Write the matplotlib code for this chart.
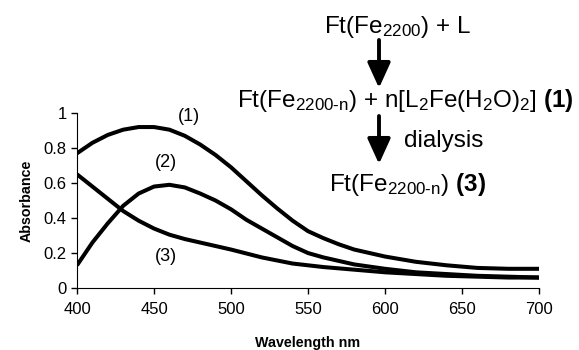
import matplotlib
matplotlib.use('Agg')
import matplotlib.pyplot as plt

plt.rcParams['font.family'] = 'Liberation Sans'
plt.rcParams['mathtext.fontset'] = 'custom'
plt.rcParams['mathtext.rm'] = 'Liberation Sans'
plt.rcParams['mathtext.it'] = 'Liberation Sans:italic'
plt.rcParams['mathtext.bf'] = 'Liberation Sans:bold'

# spectra
wl1 = [400, 410, 420, 430, 440, 450, 460, 470, 480, 490, 500, 510, 520, 530,
       540, 550, 560, 570, 580, 600, 620, 640, 660, 680, 700]
abs1 = [0.77, 0.83, 0.875, 0.905, 0.92, 0.92, 0.905, 0.87, 0.82, 0.76, 0.69,
        0.61, 0.53, 0.455, 0.385, 0.325, 0.285, 0.25, 0.22, 0.18, 0.15, 0.13,
        0.115, 0.11, 0.11]
wl2 = wl1
abs2 = [0.13, 0.26, 0.37, 0.47, 0.54, 0.58, 0.59, 0.575, 0.54, 0.50, 0.45,
        0.39, 0.34, 0.29, 0.24, 0.20, 0.175, 0.155, 0.135, 0.11, 0.09, 0.08,
        0.07, 0.065, 0.06]
wl3 = [400, 410, 420, 430, 440, 450, 460, 470, 480, 490, 500, 520, 540, 560,
       580, 600, 620, 640, 660, 680, 700]
abs3 = [0.65, 0.58, 0.51, 0.44, 0.385, 0.34, 0.305, 0.28, 0.26, 0.24, 0.22,
        0.175, 0.14, 0.12, 0.105, 0.09, 0.08, 0.07, 0.065, 0.06, 0.06]

xticks = [400, 450, 500, 550, 600, 650, 700]
yticks = [0, 0.2, 0.4, 0.6, 0.8, 1]
yticklabels = ['0', '0.2', '0.4', '0.6', '0.8', '1']

fig = plt.figure(figsize=(5.79, 3.5), dpi=100)
ax = fig.add_axes([0.133, 0.177, 0.798, 0.5])

for x, y in [(wl1, abs1), (wl2, abs2), (wl3, abs3)]:
    ax.plot(x, y, color='black', lw=2.9, solid_capstyle='butt')

ax.set_xlim(400, 700)
ax.set_ylim(0, 1)
ax.set_xticks(xticks)
ax.set_yticks(yticks)
ax.set_yticklabels(yticklabels)
ax.tick_params(labelsize=12, length=4, width=1, direction='out')
ax.tick_params(axis='x', pad=6)
ax.spines['top'].set_visible(False)
ax.spines['right'].set_visible(False)
ax.set_xlabel('Wavelength nm', fontsize=10.3, fontweight='bold', labelpad=14)
ax.set_ylabel('Absorbance', fontsize=10.3, fontweight='bold', labelpad=7)

ax.text(473, 0.98, '(1)', fontsize=13, ha='center', va='center')
ax.text(458, 0.72, '(2)', fontsize=13, ha='center', va='center')
ax.text(458, 0.18, '(3)', fontsize=13, ha='center', va='center')

# reaction scheme
fs = 17.5
fig.text(397 / 579, 1 - 27 / 350, r'Ft(Fe$_{2200}$) + L', fontsize=fs,
         ha='center', va='center')
fig.text(405 / 579, 1 - 100 / 350,
         r'Ft(Fe$_{\text{2200-n}}$) + n[L$_2$Fe(H$_2$O)$_2$] $\mathbf{(1)}$',
         fontsize=fs, ha='center', va='center')
fig.text(404 / 579, 1 - 141 / 350, 'dialysis', fontsize=fs,
         ha='left', va='center')
fig.text(407 / 579, 1 - 185 / 350, r'Ft(Fe$_{\text{2200-n}}$) $\mathbf{(3)}$',
         fontsize=fs, ha='center', va='center')

head = '-|>,head_length=1.1,head_width=0.5'
for y0, y1 in [(40, 88), (116, 164)]:
    fig.add_artist(matplotlib.patches.FancyArrowPatch(
        (379 / 579, 1 - y0 / 350), (379 / 579, 1 - y1 / 350),
        transform=fig.transFigure, mutation_scale=14,
        arrowstyle=head, color='black', lw=2.8, shrinkA=0, shrinkB=0))

fig.savefig('out.png', dpi=100)
